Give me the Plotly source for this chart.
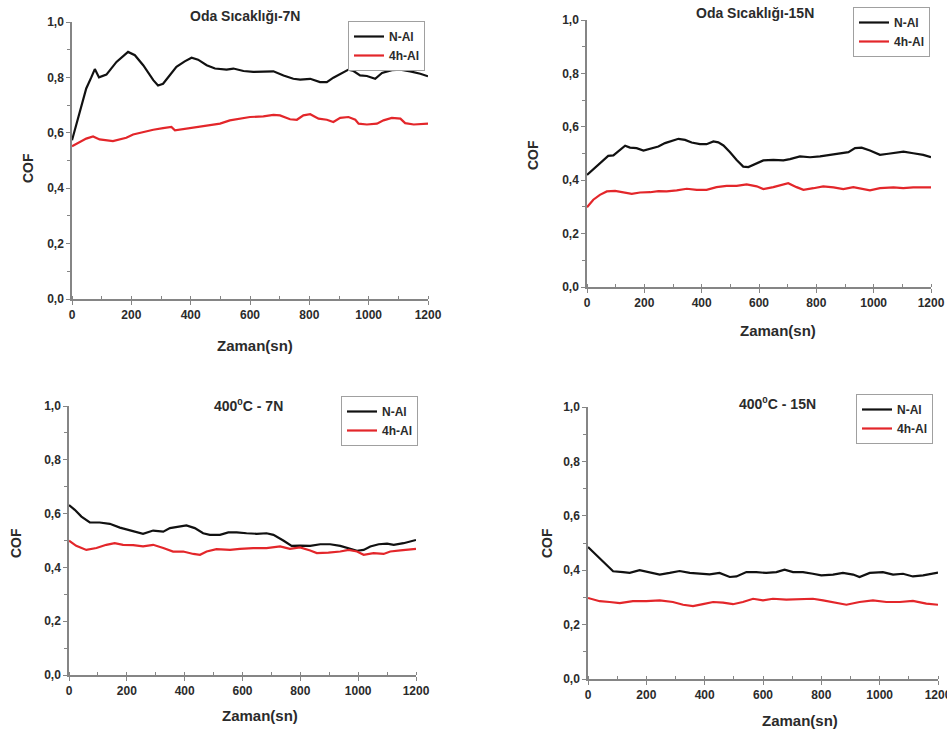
import plotly.graph_objects as go

# ---- Oda Sıcaklığı - 7N ----
rt7_nal_t = [0, 26, 48, 65, 77, 91, 116, 150, 183, 189, 212, 240, 274, 290, 307, 330, 352, 380, 403, 425,
             454, 482, 521, 544, 578, 611, 656, 679, 713, 746, 769, 803, 836, 859, 881, 904, 932, 949, 971,
             994, 1022, 1045, 1078, 1107, 1140, 1174, 1200]
rt7_nal_cof = [0.573, 0.68, 0.76, 0.80, 0.83, 0.80, 0.81, 0.856, 0.888, 0.892, 0.88, 0.844, 0.79, 0.771,
               0.777, 0.807, 0.838, 0.858, 0.871, 0.864, 0.844, 0.832, 0.828, 0.832, 0.823, 0.82, 0.823,
               0.822, 0.807, 0.795, 0.792, 0.795, 0.783, 0.783, 0.799, 0.813, 0.828, 0.823, 0.807, 0.805,
               0.795, 0.816, 0.826, 0.828, 0.822, 0.813, 0.804]
rt7_4h_t = [0, 26, 48, 71, 93, 138, 161, 183, 206, 240, 274, 307, 335, 347, 386, 431, 465, 499, 532, 566,
            600, 645, 679, 701, 735, 758, 780, 803, 831, 859, 881, 904, 932, 955, 966, 994, 1028, 1050,
            1078, 1107, 1123, 1152, 1200]
rt7_4h_cof = [0.551, 0.567, 0.579, 0.587, 0.576, 0.570, 0.575, 0.582, 0.594, 0.603, 0.611, 0.617, 0.621,
              0.609, 0.615, 0.621, 0.627, 0.633, 0.645, 0.651, 0.657, 0.659, 0.665, 0.663, 0.649, 0.647,
              0.663, 0.667, 0.651, 0.647, 0.639, 0.654, 0.657, 0.647, 0.633, 0.630, 0.633, 0.645, 0.654,
              0.651, 0.635, 0.630, 0.633]

# ---- Oda Sıcaklığı - 15N ----
rt15_nal_t = [0, 22, 45, 74, 92, 109, 133, 150, 173, 197, 220, 249, 272, 295, 319, 342, 365, 394, 417,
              441, 458, 476, 499, 522, 545, 563, 580, 615, 650, 685, 708, 743, 778, 813, 848, 883, 912,
              935, 958, 987, 1022, 1051, 1080, 1104, 1138, 1173, 1200]
rt15_nal_cof = [0.42, 0.441, 0.466, 0.491, 0.493, 0.507, 0.529, 0.522, 0.52, 0.511, 0.517, 0.526, 0.539,
                0.547, 0.555, 0.551, 0.541, 0.535, 0.535, 0.545, 0.542, 0.530, 0.505, 0.476, 0.451,
                0.449, 0.458, 0.474, 0.476, 0.474, 0.479, 0.489, 0.486, 0.489, 0.495, 0.501, 0.505,
                0.52, 0.522, 0.511, 0.495, 0.499, 0.504, 0.507, 0.501, 0.495, 0.486]
rt15_4h_t = [0, 22, 45, 69, 98, 127, 156, 185, 220, 249, 278, 313, 348, 383, 417, 452, 487, 522, 557,
             592, 615, 650, 685, 702, 731, 755, 790, 824, 860, 894, 929, 964, 987, 1022, 1069, 1103,
             1138, 1200]
rt15_4h_cof = [0.299, 0.327, 0.345, 0.358, 0.36, 0.354, 0.349, 0.354, 0.355, 0.359, 0.358, 0.362, 0.368,
               0.364, 0.364, 0.374, 0.379, 0.379, 0.384, 0.377, 0.367, 0.374, 0.383, 0.389, 0.374,
               0.364, 0.370, 0.377, 0.373, 0.367, 0.374, 0.368, 0.362, 0.370, 0.373, 0.370, 0.373, 0.373]

# ---- 400°C - 7N ----
ht7_nal_t = [0, 20, 43, 72, 106, 141, 176, 210, 239, 256, 291, 326, 349, 383, 406, 435, 464, 487, 522,
             551, 580, 614, 649, 683, 707, 741, 770, 799, 834, 869, 903, 938, 967, 996, 1019, 1042, 1071,
             1100, 1123, 1157, 1200]
ht7_nal_cof = [0.632, 0.614, 0.589, 0.567, 0.567, 0.562, 0.548, 0.537, 0.530, 0.525, 0.537, 0.533,
               0.546, 0.552, 0.556, 0.546, 0.527, 0.521, 0.521, 0.530, 0.530, 0.527, 0.525, 0.527,
               0.521, 0.50, 0.48, 0.481, 0.48, 0.486, 0.486, 0.48, 0.472, 0.462, 0.465, 0.478, 0.486,
               0.488, 0.484, 0.49, 0.502]
ht7_4h_t = [0, 25, 60, 95, 129, 158, 187, 222, 256, 291, 326, 360, 395, 430, 453, 476, 510, 557, 591,
            637, 683, 730, 764, 799, 834, 857, 897, 938, 967, 996, 1019, 1053, 1088, 1111, 1146, 1200]
ht7_4h_cof = [0.499, 0.48, 0.465, 0.472, 0.484, 0.49, 0.484, 0.483, 0.478, 0.484, 0.472, 0.459, 0.459,
              0.450, 0.447, 0.459, 0.468, 0.465, 0.469, 0.472, 0.472, 0.478, 0.469, 0.474, 0.463,
              0.453, 0.455, 0.459, 0.465, 0.459, 0.447, 0.453, 0.450, 0.459, 0.463, 0.469]

# ---- 400°C - 15N ----
ht15_nal_t = [0, 29, 57, 86, 120, 143, 177, 206, 246, 280, 314, 349, 383, 417, 451, 486, 509, 543, 577,
              611, 646, 674, 703, 737, 771, 800, 840, 874, 909, 931, 966, 1011, 1046, 1080, 1114, 1149,
              1200]
ht15_nal_cof = [0.485, 0.455, 0.424, 0.396, 0.393, 0.39, 0.40, 0.393, 0.384, 0.39, 0.397, 0.39, 0.387,
                0.385, 0.39, 0.375, 0.377, 0.393, 0.393, 0.39, 0.393, 0.402, 0.393, 0.393, 0.387,
                0.381, 0.384, 0.39, 0.384, 0.375, 0.39, 0.393, 0.384, 0.387, 0.377, 0.381, 0.391]
ht15_4h_t = [0, 40, 74, 109, 154, 200, 246, 291, 326, 360, 394, 429, 463, 497, 531, 566, 600, 634, 680,
             726, 771, 806, 851, 886, 931, 977, 1023, 1069, 1114, 1160, 1200]
ht15_4h_cof = [0.298, 0.286, 0.283, 0.279, 0.286, 0.286, 0.289, 0.283, 0.273, 0.268, 0.275, 0.283,
               0.281, 0.275, 0.283, 0.295, 0.289, 0.295, 0.292, 0.293, 0.295, 0.289, 0.279, 0.273,
               0.283, 0.289, 0.283, 0.283, 0.287, 0.277, 0.273]

panel_titles = ["Oda Sıcaklığı-7N", "Oda Sıcaklığı-15N", "400<sup>0</sup>C - 7N", "400<sup>0</sup>C - 15N"]
series_names = ["N-Al", "4h-Al"]
x_ticks = [0, 200, 400, 600, 800, 1000, 1200]
y_ticks = [0.0, 0.2, 0.4, 0.6, 0.8, 1.0]
y_ticktext = ["0,0", "0,2", "0,4", "0,6", "0,8", "1,0"]

W, H = 947, 733
BLACK = "#111111"
RED = "#e3262a"
AXIS = "#858585"
TXT = "#2b2b2b"
FONT = "Liberation Sans, Arial, sans-serif"


def px_x(v):
    return v / W


def px_y(v):
    return 1 - v / H


# plot-area boxes in pixels: (left, right, top, bottom)
boxes = [(72, 428, 22, 299), (587, 931, 20, 287), (69, 416, 406, 675), (588, 938, 407, 679)]
title_pos = [(245, 16), (755, 13), (248, 405), (777, 403)]
xlabel_pos = [(255, 345), (778, 330), (260, 715), (800, 720)]
ylabel_pos = [(28, 168), (533, 155), (16, 543), (547, 543)]
legend_pos = [(348, 21), (853, 7), (341, 396), (856, 394)]

data = [
    (rt7_nal_t, rt7_nal_cof, rt7_4h_t, rt7_4h_cof),
    (rt15_nal_t, rt15_nal_cof, rt15_4h_t, rt15_4h_cof),
    (ht7_nal_t, ht7_nal_cof, ht7_4h_t, ht7_4h_cof),
    (ht15_nal_t, ht15_nal_cof, ht15_4h_t, ht15_4h_cof),
]

fig = go.Figure()
layout = dict(
    template="none",
    width=W, height=H, margin=dict(l=0, r=0, t=0, b=0, autoexpand=False),
    paper_bgcolor="white", plot_bgcolor="white",
    font=dict(family=FONT, color=TXT),
    annotations=[],
)

for i, (tb, cb, tr, cr) in enumerate(data):
    n = i + 1
    xa = "x" if n == 1 else f"x{n}"
    ya = "y" if n == 1 else f"y{n}"
    leg = "legend" if n == 1 else f"legend{n}"
    fig.add_trace(go.Scatter(x=tb, y=cb, mode="lines", name=series_names[0],
                             line=dict(color=BLACK, width=2.2), xaxis=xa, yaxis=ya, legend=leg))
    fig.add_trace(go.Scatter(x=tr, y=cr, mode="lines", name=series_names[1],
                             line=dict(color=RED, width=2.2), xaxis=xa, yaxis=ya, legend=leg))

    l, r, t, b = boxes[i]
    xkey = "xaxis" if n == 1 else f"xaxis{n}"
    ykey = "yaxis" if n == 1 else f"yaxis{n}"
    layout[xkey] = dict(
        domain=[px_x(l), px_x(r)], anchor=ya, range=[0, 1200], automargin=False,
        ticklabeloverflow="allow",
        showgrid=False, zeroline=False, showline=True, linecolor=AXIS, linewidth=1.5,
        ticks="outside", ticklen=4, tickwidth=1.2, tickcolor=AXIS,
        tickvals=x_ticks, ticktext=[str(v) for v in x_ticks],
        tickfont=dict(family=FONT, size=12, color=TXT, weight="bold"),
        minor=dict(dtick=100, ticks="inside", ticklen=3, tickcolor=AXIS, tickwidth=1),
    )
    layout[ykey] = dict(
        domain=[px_y(b), px_y(t)], anchor=xa, range=[0, 1.0], automargin=False,
        ticklabeloverflow="allow",
        showgrid=False, zeroline=False, showline=True, linecolor=AXIS, linewidth=1.5,
        ticks="outside", ticklen=4, tickwidth=1.2, tickcolor=AXIS,
        tickvals=y_ticks, ticktext=y_ticktext,
        tickfont=dict(family=FONT, size=12, color=TXT, weight="bold"),
        minor=dict(dtick=0.1, ticks="outside", ticklen=3, tickcolor=AXIS, tickwidth=1),
    )
    lx, ly = legend_pos[i]
    layout[leg] = dict(
        x=px_x(lx), y=px_y(ly), xanchor="left", yanchor="top",
        bgcolor="white", bordercolor="#a0a0a0", borderwidth=1,
        font=dict(family=FONT, size=12, color=TXT, weight="bold"),
        itemwidth=30, tracegroupgap=0,
    )
    tx, ty = title_pos[i]
    layout["annotations"].append(dict(
        x=px_x(tx), y=px_y(ty), xref="paper", yref="paper", text=panel_titles[i],
        showarrow=False, xanchor="center", yanchor="middle",
        font=dict(family=FONT, size=14, color=TXT, weight="bold")))
    ax_, ay_ = xlabel_pos[i]
    layout["annotations"].append(dict(
        x=px_x(ax_), y=px_y(ay_), xref="paper", yref="paper", text="Zaman(sn)",
        showarrow=False, xanchor="center", yanchor="middle",
        font=dict(family=FONT, size=15, color=TXT, weight="bold")))
    cx, cy = ylabel_pos[i]
    layout["annotations"].append(dict(
        x=px_x(cx), y=px_y(cy), xref="paper", yref="paper", text="COF", textangle=-90,
        showarrow=False, xanchor="center", yanchor="middle",
        font=dict(family=FONT, size=14, color=TXT, weight="bold")))

fig.update_layout(**layout)
fig.write_html("out.html")
